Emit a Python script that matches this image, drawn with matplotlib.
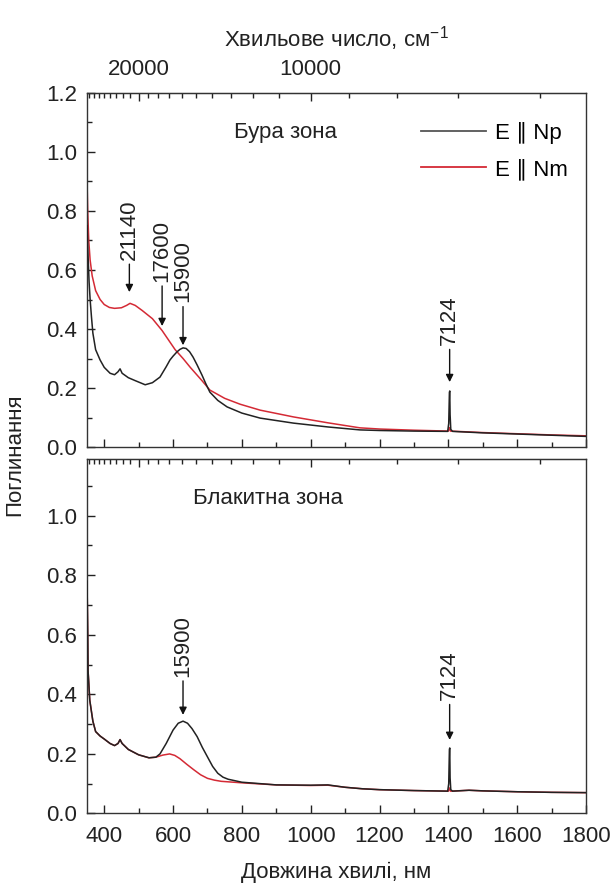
import numpy as np
import matplotlib
matplotlib.use("Agg")
import matplotlib.pyplot as plt
from matplotlib.ticker import MultipleLocator, FixedLocator

plt.rcParams['font.family'] = ['Liberation Sans', 'DejaVu Sans']
plt.rcParams['mathtext.fontset'] = 'custom'
plt.rcParams['mathtext.rm'] = 'Liberation Sans'
plt.rcParams['mathtext.it'] = 'Liberation Sans:italic'

# ---------------- data ----------------
# Top panel (brown zone)
top_np_wl = [350, 353, 356, 359, 363, 367, 375, 388, 400, 417, 430, 440, 446, 452, 470, 490,
             519, 540, 562, 580, 591, 600, 611, 620, 629, 638, 648, 658, 670, 684, 695, 707,
             730, 757, 800, 853, 950, 1050, 1143, 1200, 1300, 1398, 1401, 1403, 1404, 1405,
             1407, 1412, 1500, 1600, 1700, 1800]
top_np = [0.75, 0.65, 0.56, 0.50, 0.44, 0.386, 0.33, 0.295, 0.27, 0.25, 0.245, 0.255, 0.265,
          0.25, 0.235, 0.225, 0.211, 0.218, 0.237, 0.272, 0.295, 0.308, 0.322, 0.331, 0.336,
          0.334, 0.323, 0.305, 0.278, 0.244, 0.215, 0.186, 0.158, 0.136, 0.115, 0.098, 0.081,
          0.068, 0.058, 0.056, 0.054, 0.053, 0.08, 0.185, 0.19, 0.11, 0.06, 0.053, 0.048,
          0.044, 0.040, 0.036]

top_nm_wl = [350, 352, 355, 359, 365, 375, 388, 400, 415, 430, 450, 465, 475, 490, 510, 540,
             568, 606, 629, 650, 684, 707, 750, 795, 853, 950, 1050, 1143, 1200, 1300, 1400,
             1403, 1404, 1406, 1500, 1600, 1700, 1800]
top_nm = [0.90, 0.80, 0.70, 0.634, 0.58, 0.53, 0.50, 0.483, 0.473, 0.47, 0.472, 0.48, 0.487,
          0.48, 0.463, 0.435, 0.395, 0.33, 0.30, 0.27, 0.225, 0.193, 0.165, 0.145, 0.125,
          0.102, 0.082, 0.065, 0.061, 0.057, 0.054, 0.065, 0.066, 0.054, 0.049, 0.045, 0.041,
          0.038]

# Bottom panel (blue zone)
bot_np_wl = [350, 352, 353, 358, 367, 375, 388, 400, 417, 430, 440, 446, 452, 470, 500, 530,
             550, 562, 580, 600, 615, 629, 642, 655, 670, 685, 700, 715, 730, 745, 760, 800,
             900, 1000, 1050, 1100, 1150, 1200, 1300, 1398, 1401, 1403, 1404, 1405, 1407, 1412,
             1460, 1500, 1600, 1700, 1800]
bot_np = [0.78, 0.60, 0.48, 0.38, 0.31, 0.275, 0.26, 0.25, 0.235, 0.228, 0.235, 0.248, 0.235,
          0.215, 0.197, 0.187, 0.189, 0.20, 0.235, 0.28, 0.303, 0.31, 0.303, 0.285, 0.258,
          0.222, 0.19, 0.158, 0.135, 0.122, 0.115, 0.105, 0.096, 0.095, 0.096, 0.088, 0.083,
          0.080, 0.077, 0.075, 0.10, 0.215, 0.22, 0.12, 0.08, 0.075, 0.078, 0.076, 0.073,
          0.071, 0.070]

bot_nm_wl = [350, 352, 353, 358, 367, 375, 388, 400, 417, 430, 440, 446, 452, 470, 500, 530,
             550, 570, 590, 605, 620, 640, 660, 680, 700, 720, 740, 800, 900, 1000, 1050, 1100,
             1150, 1200, 1300, 1400, 1403, 1404, 1406, 1460, 1500, 1600, 1700, 1800]
bot_nm = [0.78, 0.60, 0.48, 0.38, 0.31, 0.275, 0.26, 0.25, 0.235, 0.228, 0.235, 0.248, 0.235,
          0.215, 0.197, 0.187, 0.189, 0.196, 0.20, 0.195, 0.184, 0.165, 0.147, 0.13, 0.118,
          0.112, 0.108, 0.103, 0.096, 0.094, 0.095, 0.088, 0.083, 0.080, 0.077, 0.075, 0.085,
          0.086, 0.075, 0.078, 0.076, 0.073, 0.071, 0.070]

# annotations: (wavenumber label, text-bottom y, arrow-tip y)
top_marks = [("21140", 0.634, 0.525), ("17600", 0.56, 0.41), ("15900", 0.49, 0.345),
             ("7124", 0.345, 0.22)]
bot_marks = [("15900", 0.459, 0.331), ("7124", 0.38, 0.247)]

legend_labels = ["E \u2225 Np", "E \u2225 Nm"]
panel_titles = ["Бура зона", "Блакитна зона"]

black = "#222222"
red = "#d42a35"
FS = 16

fig = plt.figure(figsize=(6.15, 8.88), dpi=100)
ax1 = fig.add_axes([0.1415, 0.4966, 0.8114, 0.3987])
ax2 = fig.add_axes([0.1415, 0.0839, 0.8114, 0.3992])

def inv(x):
    x = np.asarray(x, dtype=float)
    with np.errstate(divide='ignore'):
        return np.where(x == 0, np.inf, 1e7 / np.where(x == 0, 1, x))

major_wn = [20000, 10000]
minor_wn = [w for w in range(6000, 29001, 1000) if w not in major_wn]

for ax, ylim, labels_bottom in [(ax1, (0, 1.2), False), (ax2, (0, 1.19), True)]:
    ax.set_xlim(350, 1800)
    ax.set_ylim(*ylim)
    ax.xaxis.set_major_locator(MultipleLocator(200))
    ax.xaxis.set_minor_locator(MultipleLocator(100))
    ax.yaxis.set_major_locator(MultipleLocator(0.2))
    ax.yaxis.set_minor_locator(MultipleLocator(0.1))
    ax.yaxis.set_major_formatter(matplotlib.ticker.FormatStrFormatter('%.1f'))
    ax.tick_params(axis='both', which='both', direction='in', top=False, right=False,
                   labelsize=FS, colors='#222222')
    ax.tick_params(axis='both', which='major', length=6, width=1)
    ax.tick_params(axis='both', which='minor', length=3.5, width=1)
    ax.tick_params(axis='x', pad=9)
    ax.tick_params(axis='y', pad=7)
    if not labels_bottom:
        ax.tick_params(axis='x', labelbottom=False)
    for s in ax.spines.values():
        s.set_color('#333333')
        s.set_linewidth(1.0)
    sec = ax.secondary_xaxis('top', functions=(inv, inv))
    sec.xaxis.set_major_locator(FixedLocator(major_wn))
    sec.xaxis.set_minor_locator(FixedLocator(minor_wn))
    sec.tick_params(axis='x', which='both', direction='in', labelsize=FS, pad=9,
                    colors='#222222')
    sec.tick_params(axis='x', which='major', length=6, width=1)
    sec.tick_params(axis='x', which='minor', length=3.5, width=1)
    sec.xaxis.set_major_formatter(matplotlib.ticker.FuncFormatter(lambda v, p: f"{v:.0f}"))
    sec.spines['top'].set_color('#333333')
    if labels_bottom:
        sec.tick_params(axis='x', labeltop=False)

ax1.plot(top_nm_wl, top_nm, color=red, lw=1.1, label=legend_labels[1], zorder=2)
ax1.plot(top_np_wl, top_np, color=black, lw=1.1, label=legend_labels[0], zorder=3)
ax2.plot(bot_nm_wl, bot_nm, color=red, lw=1.1, zorder=2)
ax2.plot(bot_np_wl, bot_np, color=black, lw=1.1, zorder=3)

h, l = ax1.get_legend_handles_labels()
leg = ax1.legend([h[1], h[0]], [l[1], l[0]], loc='upper right', bbox_to_anchor=(0.963, 0.918),
                 frameon=False, fontsize=FS, handlelength=2.9, handletextpad=0.4,
                 labelspacing=0.65, borderpad=0, borderaxespad=0)
for line in leg.get_lines():
    line.set_linewidth(1.3)
leg.get_lines()[0].set_color('#555555')

ax1.text(0.295, 0.887, panel_titles[0], transform=ax1.transAxes, fontsize=FS,
         ha='left', va='center', color='#222222')
ax2.text(0.212, 0.89, panel_titles[1], transform=ax2.transAxes, fontsize=FS,
         ha='left', va='center', color='#222222')

for ax, marks in [(ax1, top_marks), (ax2, bot_marks)]:
    for lab, ytext, ytip in marks:
        x = 1e7 / float(lab)
        ax.annotate(lab, xy=(x, ytip), xytext=(x, ytext), rotation=90, ha='center',
                    va='bottom', fontsize=FS, color='#222222',
                    arrowprops=dict(arrowstyle='-|>', color='#111111', lw=1.0,
                                    shrinkA=1, shrinkB=0, mutation_scale=11))

fig.text(0.547, 0.957, "Хвильове число, см$^{-1}$", ha='center', va='center', fontsize=FS,
         color='#222222')
fig.text(0.547, 0.018, "Довжина хвилі, нм", ha='center', va='center', fontsize=FS,
         color='#222222')
fig.text(0.024, 0.488, "Поглинання", ha='center', va='center', rotation=90, fontsize=FS,
         color='#222222')

fig.savefig("out.png", dpi=100)
